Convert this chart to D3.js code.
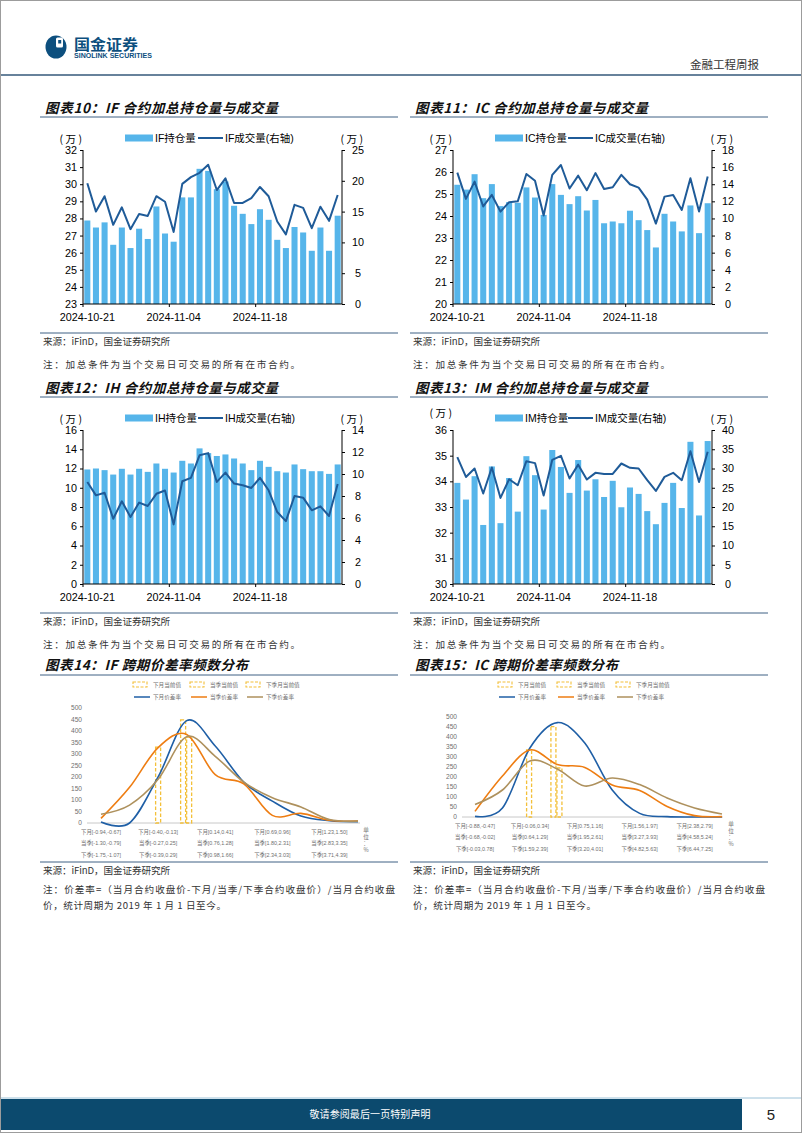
<!DOCTYPE html>
<html><head><meta charset="utf-8">
<script src="https://cdn.jsdelivr.net/npm/d3@7/dist/d3.min.js"></script>
<style>body{margin:0;background:#fff}svg{display:block}</style>
</head><body>
<svg id="page" width="802" height="1133"></svg>
<script>
// ---------------- DATA ----------------
const dates = ["2024-10-21","2024-10-22","2024-10-23","2024-10-24","2024-10-25","2024-10-28","2024-10-29","2024-10-30","2024-10-31","2024-11-01","2024-11-04","2024-11-05","2024-11-06","2024-11-07","2024-11-08","2024-11-11","2024-11-12","2024-11-13","2024-11-14","2024-11-15","2024-11-18","2024-11-19","2024-11-20","2024-11-21","2024-11-22","2024-11-25","2024-11-26","2024-11-27","2024-11-28","2024-11-29"];
const xTickLabels = ["2024-10-21","2024-11-04","2024-11-18"];

const ifOI  = [27.88,27.47,27.77,26.46,27.47,26.27,27.40,26.80,28.70,27.12,26.64,29.23,29.23,30.90,30.78,29.71,30.16,28.74,28.27,27.67,28.54,27.92,26.75,26.27,27.50,27.18,26.11,27.47,26.11,28.16];
const ifVol = [19.6,15.0,17.5,12.85,15.7,12.15,14.6,14.3,17.5,16.6,11.7,19.5,20.6,21.3,22.6,18.5,20.4,16.4,16.4,17.2,19.0,17.5,13.4,11.3,16.1,15.6,12.3,15.8,13.5,17.7];
const icOI  = [25.42,25.20,25.90,24.81,25.45,24.45,24.63,24.60,25.30,24.84,24.05,25.45,24.96,24.54,24.90,24.25,24.73,23.67,23.75,23.67,24.24,23.81,23.36,22.57,24.10,23.75,23.30,24.48,23.22,24.58];
const icVol = [15.36,12.29,14.3,11.4,12.75,10.8,11.9,12.0,15.2,14.4,10.34,15.1,16.25,13.5,15.0,13.3,15.3,13.45,13.65,15.1,14.0,13.6,12.2,9.4,12.55,12.75,11.0,14.7,10.8,14.9];
const ihOI  = [11.90,12.00,11.83,11.37,11.97,11.37,11.97,11.65,12.52,11.97,11.58,12.80,12.52,14.09,13.60,13.30,13.46,13.04,12.52,11.83,12.80,12.17,11.72,11.58,12.42,11.93,11.72,11.72,11.44,12.42];
const ihVol = [9.28,8.06,8.3,5.93,7.52,6.09,7.4,7.09,8.2,8.5,5.42,9.34,9.65,11.7,11.9,9.28,10.13,9.13,8.98,8.73,9.65,8.52,6.54,5.72,8.0,7.85,6.7,7.06,6.18,9.1];
const imOI  = [33.94,33.29,34.20,32.30,34.58,32.37,34.13,32.82,34.98,34.24,32.90,35.22,34.56,33.55,34.83,33.64,34.08,33.39,34.02,32.99,33.76,33.51,32.84,32.33,33.16,33.94,32.96,35.54,32.67,35.57];
const imVol = [32.96,27.8,30.0,23.5,30.26,22.35,27.2,25.65,31.9,31.4,23.0,32.26,33.3,27.4,31.0,27.13,28.87,28.6,28.6,31.3,30.17,30.0,26.96,24.17,27.83,28.87,26.96,34.5,26.5,34.35];

const ifLeftTicks = [23,24,25,26,27,28,29,30,31,32];  const ifRightTicks = [0,5,10,15,20,25];
const icLeftTicks = [20,21,22,23,24,25,26,27];        const icRightTicks = [0,2,4,6,8,10,12,14,16,18];
const ihLeftTicks = [0,2,4,6,8,10,12,14,16];          const ihRightTicks = [0,2,4,6,8,10,12,14];
const imLeftTicks = [30,31,32,33,34,35,36];           const imRightTicks = [0,5,10,15,20,25,30,35,40];

// distribution charts
const freqTicks = [0,50,100,150,200,250,300,350,400,450,500];
const ifNextFreq = [4,0,200,445,335,178,95,30,10,6];
const ifQtrFreq  = [20,155,328,385,210,170,33,42,12,8];
const ifNQtrFreq = [38,78,190,375,290,178,110,70,15,8];
const icNextFreq = [3,45,345,472,370,135,18,2,0,0];
const icQtrFreq  = [28,205,335,262,248,160,133,53,7,2];
const icNQtrFreq = [62,135,280,240,155,195,162,95,45,15];

const ifNextLabels = ["下月[-0.94,-0.67]","下月[-0.40,-0.13]","下月[0.14,0.41]","下月[0.69,0.96]","下月[1.23,1.50]"];
const ifQtrLabels  = ["当季[-1.30,-0.79]","当季[-0.27,0.25]","当季[0.76,1.28]","当季[1.80,2.31]","当季[2.83,3.35]"];
const ifNQtrLabels = ["下季[-1.75,-1.07]","下季[-0.39,0.29]","下季[0.98,1.66]","下季[2.34,3.03]","下季[3.71,4.39]"];
const icNextLabels = ["下月[-0.88,-0.47]","下月[-0.06,0.34]","下月[0.75,1.16]","下月[1.56,1.97]","下月[2.38,2.79]"];
const icQtrLabels  = ["当季[-0.68,-0.02]","当季[0.64,1.29]","当季[1.95,2.61]","当季[3.27,3.93]","当季[4.58,5.24]"];
const icNQtrLabels = ["下季[-0.03,0.78]","下季[1.59,2.39]","下季[3.20,4.01]","下季[4.82,5.63]","下季[6.44,7.25]"];

const ifCurrentVal = [-0.265, 0.436, 0.689];
const ifCurrentHeight = [330, 448, 374];
const icCurrentVal = [0.133, 1.536, 2.867];
const icCurrentHeight = [335, 452, 245];

const currentNames = ["下月当前值","当季当前值","下季月当前值"];
const spreadNames = ["下月价差率","当季价差率","下季价差率"];

// ---------------- STYLE ----------------
const CJK = "'Noto Sans CJK SC', sans-serif";
const LAT = "'Liberation Sans', Arial, 'Noto Sans CJK SC', sans-serif";
const BAR = "#56b5ea", LINE = "#1f5b98", RULE = "#3f6184";
const DASH = "#f3c03a";
const DIST_COLORS = ["#1f5fa6", "#ee7d12", "#ae915d"];

const svg = d3.select("#page");

// page border
svg.append("rect").attr("x",0.5).attr("y",0.5).attr("width",801).attr("height",1132)
  .attr("fill","none").attr("stroke","#9c9c9c");

// ---------------- HEADER ----------------
const logo = svg.append("g");
logo.append("ellipse").attr("cx",56).attr("cy",47).attr("rx",10.5).attr("ry",11.5).attr("fill","#0d4f7e");
logo.append("rect").attr("x",56).attr("y",37.5).attr("width",7).attr("height",10).attr("rx",1.5).attr("fill","#fff");
logo.append("rect").attr("x",58.2).attr("y",40).attr("width",3).attr("height",3.5).attr("fill","#0d4f7e");
svg.append("text").attr("x",74).attr("y",50).attr("font-family",CJK).attr("font-weight",700)
  .attr("font-size",14.5).attr("fill","#0d4f7e").attr("textLength",64).attr("lengthAdjust","spacingAndGlyphs").text("国金证券");
svg.append("text").attr("x",74).attr("y",58).attr("font-family",LAT).attr("font-weight",700)
  .attr("font-size",6.8).attr("fill","#0d4f7e").attr("textLength",78).attr("lengthAdjust","spacingAndGlyphs").text("SINOLINK SECURITIES");
svg.append("text").attr("x",690).attr("y",69).attr("font-family",CJK).attr("font-size",11.5)
  .attr("fill","#333").attr("textLength",69).attr("lengthAdjust","spacing").text("金融工程周报");
svg.append("line").attr("x1",1).attr("x2",801).attr("y1",75).attr("y2",75).attr("stroke","#34587a").attr("stroke-width",1.6);

// ---------------- FOOTER ----------------
svg.append("line").attr("x1",1).attr("x2",801).attr("y1",1098).attr("y2",1098).attr("stroke","#9cc2d8").attr("stroke-width",1);
svg.append("rect").attr("x",1).attr("y",1099).attr("width",741).attr("height",31).attr("fill","#0c4a6e");
svg.append("text").attr("x",370).attr("y",1118).attr("text-anchor","middle").attr("font-family",CJK)
  .attr("font-size",10).attr("fill","#fff").attr("textLength",121).attr("lengthAdjust","spacing").text("敬请参阅最后一页特别声明");
svg.append("text").attr("x",771).attr("y",1120).attr("text-anchor","middle").attr("font-family","'Liberation Sans Narrow', 'Liberation Sans', sans-serif")
  .attr("font-size",15).attr("fill","#222").text("5");

// ---------------- helpers ----------------
function title(x, y, txt, len) {
  svg.append("text").attr("x", x).attr("y", y).attr("font-family", CJK).attr("font-weight", 700)
    .attr("font-style", "italic").attr("font-size", 13.5).attr("fill", "#111")
    .attr("textLength", len).attr("lengthAdjust", "spacing").text(txt);
}
function rule(x1, x2, y) {
  svg.append("line").attr("x1", x1).attr("x2", x2).attr("y1", y).attr("y2", y).attr("stroke", RULE).attr("stroke-width", 1);
}
function note(x, y, txt, len) {
  svg.append("text").attr("x", x).attr("y", y).attr("font-family", CJK).attr("font-size", 9.6)
    .attr("fill", "#333").attr("textLength", len).attr("lengthAdjust", "spacing").text(txt);
}

// ---------------- combo (bar + line) chart ----------------
function comboChart(o) {
  const ox = o.ox, oy = o.oy;
  const g = svg.append("g");
  title(ox + 5, oy + 18, o.title, 233);
  rule(ox, ox + 358, oy + 22);

  const left = ox + 43, right = ox + 302, top = oy + 55, bottom = oy + 209;
  const x = d3.scaleBand().domain(dates).range([left, right]).paddingInner(0.3).paddingOuter(0.15);
  const yL = d3.scaleLinear().domain(d3.extent(o.leftTicks)).range([bottom, top]);
  const yR = d3.scaleLinear().domain(d3.extent(o.rightTicks)).range([bottom, top]);

  g.selectAll(".bar").data(o.oi).join("rect")
    .attr("x", (d, i) => x(dates[i])).attr("width", x.bandwidth())
    .attr("y", d => yL(d)).attr("height", d => bottom - yL(d)).attr("fill", BAR);

  g.append("path").datum(o.vol)
    .attr("d", d3.line().x((d, i) => x(dates[i]) + x.bandwidth() / 2).y(d => yR(d)))
    .attr("fill", "none").attr("stroke", LINE).attr("stroke-width", 2).attr("stroke-linejoin", "round");

  // axes
  const axL = g.append("g").attr("transform", `translate(${left},0)`)
    .call(d3.axisLeft(yL).tickValues(o.leftTicks).tickSize(3).tickPadding(3).tickFormat(d3.format("d")));
  const axR = g.append("g").attr("transform", `translate(${right},0)`)
    .call(d3.axisRight(yR).tickValues(o.rightTicks).tickSize(3).tickPadding(3).tickFormat(d3.format("d")));
  axR.selectAll("text").attr("text-anchor", "middle").attr("dx", "0.55em").attr("x", 10);
  const step = x.step();
  const axB = g.append("g").attr("transform", `translate(0,${bottom})`)
    .call(d3.axisBottom(x).tickValues(xTickLabels).tickSize(0).tickPadding(9));
  [axL, axR, axB].forEach(a => {
    a.select(".domain").attr("stroke", "#000").attr("stroke-width", 1);
    a.selectAll("line").attr("stroke", "#000");
    a.selectAll("text").attr("font-family", LAT).attr("font-size", 10.8).attr("fill", "#000");
  });
  axL.select(".domain").attr("d", `M0,${top}V${bottom}`);
  axR.select(".domain").attr("d", `M0,${top}V${bottom}`);
  axB.select(".domain").attr("d", `M${left},0H${right}`);
  // category boundary ticks every 10 days
  g.selectAll(".ct").data(xTickLabels).join("line")
    .attr("x1", d => x(d) - step * 0.15).attr("x2", d => x(d) - step * 0.15)
    .attr("y1", bottom).attr("y2", bottom + 3).attr("stroke", "#000");

  // unit labels
  g.append("text").attr("x", ox + 32).attr("y", oy + 48 + (o.unitDy || 0)).attr("text-anchor", "middle")
    .attr("font-family", CJK).attr("font-size", 10.5).attr("letter-spacing", 2.5).text("(万)");
  g.append("text").attr("x", ox + 313).attr("y", oy + 48).attr("text-anchor", "middle")
    .attr("font-family", CJK).attr("font-size", 10.5).attr("letter-spacing", 2.5).text("(万)");

  // legend
  const ly = oy + 43;
  g.append("rect").attr("x", ox + 85).attr("y", ly - 3.5).attr("width", 28).attr("height", 7).attr("fill", BAR);
  g.append("text").attr("x", ox + 115).attr("y", ly + 4).attr("font-family", LAT).attr("font-size", 10.5).text(o.name + "持仓量");
  g.append("line").attr("x1", ox + 158).attr("x2", ox + 183).attr("y1", ly).attr("y2", ly).attr("stroke", LINE).attr("stroke-width", 2);
  g.append("text").attr("x", ox + 185).attr("y", ly + 4).attr("font-family", LAT).attr("font-size", 10.5).text(o.name + "成交量(右轴)");

  // source block
  rule(ox, ox + 358, oy + 238);
  note(ox + 3, oy + 250, "来源：iFinD，国金证券研究所", 127);
  note(ox + 3, oy + 273, "注：加总条件为当个交易日可交易的所有在市合约。", 257);
}

comboChart({ox: 40,  oy: 95,  name: "IF", title: "图表10：IF 合约加总持仓量与成交量", oi: ifOI, vol: ifVol, leftTicks: ifLeftTicks, rightTicks: ifRightTicks});
comboChart({ox: 410, oy: 95,  name: "IC", title: "图表11：IC 合约加总持仓量与成交量", oi: icOI, vol: icVol, leftTicks: icLeftTicks, rightTicks: icRightTicks});
comboChart({ox: 40,  oy: 375, name: "IH", title: "图表12：IH 合约加总持仓量与成交量", oi: ihOI, vol: ihVol, leftTicks: ihLeftTicks, rightTicks: ihRightTicks});
comboChart({ox: 410, oy: 375, name: "IM", title: "图表13：IM 合约加总持仓量与成交量", oi: imOI, vol: imVol, leftTicks: imLeftTicks, rightTicks: imRightTicks, unitDy: -6});

// ---------------- distribution charts ----------------
function parseBin(s) { return s.slice(s.indexOf("[") + 1, s.indexOf("]")).split(",").map(Number); }

function distChart(o) {
  const ox = o.ox, oy = 655;
  const g = svg.append("g");
  title(ox + 5, oy + 15, o.title, 203);
  rule(ox, ox + 358, oy + 20);

  const n = o.series[0].length;
  const x = d3.scalePoint().domain(d3.range(n)).range([o.x0, o.x1]);
  const y = d3.scaleLinear().domain([0, 500]).range([o.bottom, o.top]);
  const GRAY = "#6f6f6f";

  // axis line
  g.append("line").attr("x1", o.axisL).attr("x2", o.axisR).attr("y1", o.bottom).attr("y2", o.bottom)
    .attr("stroke", "#c8c8c8").attr("stroke-width", 1);
  // y tick labels
  g.selectAll(".yt").data(freqTicks).join("text")
    .attr("x", o.axisL - 5).attr("y", d => y(d) + 2.3).attr("text-anchor", "end")
    .attr("font-family", LAT).attr("font-size", 6.6).attr("fill", GRAY).text(d => d);

  // current-value dashed columns (value mapped through that series' bin scale)
  o.current.forEach((v, k) => {
    const b0 = parseBin(o.labels[k][0]), b1 = parseBin(o.labels[k][1]);
    const stp = (b1[0] - b0[0]) / 2, c0 = (b0[0] + b0[1]) / 2;
    const vx = d3.scaleLinear().domain([c0, c0 + stp * (n - 1)]).range([o.x0, o.x1]);
    const cx = vx(v);
    g.append("rect").attr("x", cx - 2.5).attr("width", 5).attr("y", y(o.currentH[k]))
      .attr("height", o.bottom - y(o.currentH[k])).attr("fill", "none")
      .attr("stroke", DASH).attr("stroke-width", 1.3).attr("stroke-dasharray", "3.5,2");
  });

  // smoothed lines
  const line = d3.line().x((d, i) => x(i)).y(d => y(d)).curve(d3.curveCardinal.tension(0));
  o.series.forEach((s, k) => {
    g.append("path").datum(s).attr("d", line).attr("fill", "none")
      .attr("stroke", DIST_COLORS[k]).attr("stroke-width", 1.6);
  });

  // category labels (every other bin), three rows
  o.labels.forEach((row, r) => {
    g.selectAll(null).data(row).join("text")
      .attr("x", (d, i) => x(i * 2)).attr("y", o.bottom + 11 + r * 11.3).attr("text-anchor", "middle")
      .attr("font-family", LAT).attr("font-size", 5.4).attr("fill", GRAY).text(d => d);
  });
  // unit (vertical)
  const unit = g.append("text").attr("font-family", CJK).attr("font-size", 5.6).attr("fill", GRAY).attr("text-anchor", "middle");
  ["单", "位", "：", "%"].forEach((c, i) => unit.append("tspan").attr("x", o.unitX).attr("y", o.bottom + 9 + i * 6.5).text(c));

  // legend
  const lx = o.legX, ly1 = oy + 29.5, ly2 = oy + 42;
  currentNames.forEach((nm, k) => {
    g.append("rect").attr("x", lx[k]).attr("y", ly1 - 2.5).attr("width", 14).attr("height", 5).attr("fill", "none")
      .attr("stroke", DASH).attr("stroke-width", 1.1).attr("stroke-dasharray", "3,1.5");
    g.append("text").attr("x", lx[k] + 20).attr("y", ly1 + 2).attr("font-family", CJK).attr("font-size", 5.6)
      .attr("fill", GRAY).text(nm);
  });
  spreadNames.forEach((nm, k) => {
    g.append("line").attr("x1", lx[k] + 1).attr("x2", lx[k] + 17).attr("y1", ly2).attr("y2", ly2)
      .attr("stroke", DIST_COLORS[k]).attr("stroke-width", 1.5);
    g.append("text").attr("x", lx[k] + 20).attr("y", ly2 + 2).attr("font-family", CJK).attr("font-size", 5.6)
      .attr("fill", GRAY).text(nm);
  });

  // source block
  rule(ox, ox + 358, 862);
  note(ox + 3, 874, "来源：iFinD，国金证券研究所", 127);
  note(ox + 3, 893, "注：价差率=（当月合约收盘价-下月/当季/下季合约收盘价）/当月合约收盘", 352);
  note(ox + 3, 909, "价，统计周期为 2019 年 1 月 1 日至今。", 183);
}

distChart({ox: 40, title: "图表14：IF 跨期价差率频数分布", x0: 101, x1: 358, axisL: 87, axisR: 360, top: 708, bottom: 823,
  series: [ifNextFreq, ifQtrFreq, ifNQtrFreq], labels: [ifNextLabels, ifQtrLabels, ifNQtrLabels],
  current: ifCurrentVal, currentH: ifCurrentHeight, unitX: 366, legX: [133, 190, 246]});
distChart({ox: 410, title: "图表15：IC 跨期价差率频数分布", x0: 475, x1: 722, axisL: 462, axisR: 723, top: 717, bottom: 817,
  series: [icNextFreq, icQtrFreq, icNQtrFreq], labels: [icNextLabels, icQtrLabels, icNQtrLabels],
  current: icCurrentVal, currentH: icCurrentHeight, unitX: 731, legX: [498, 557, 616]});
</script>
</body></html>
